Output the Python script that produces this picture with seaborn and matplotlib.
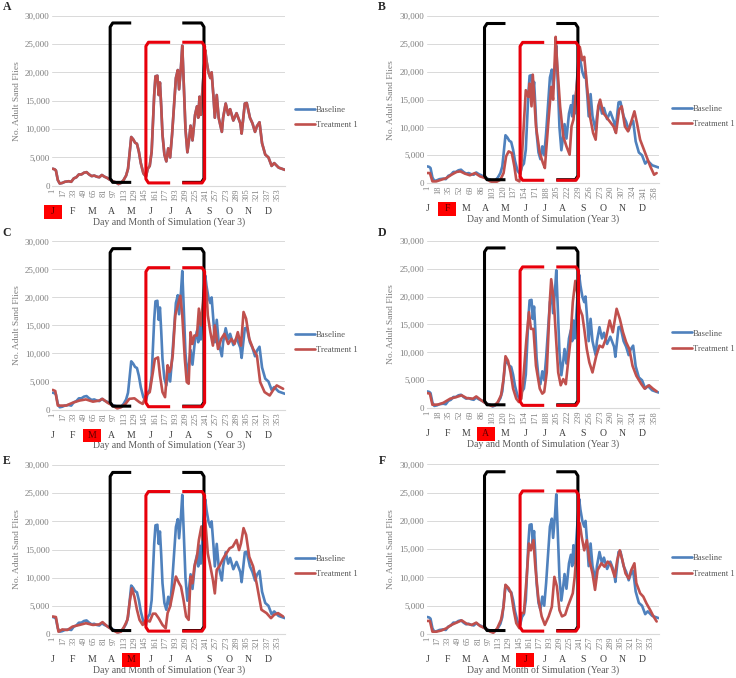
import matplotlib
matplotlib.use("Agg")
import matplotlib.pyplot as plt
import matplotlib.transforms as mtransforms
from matplotlib.patches import Rectangle
import seaborn as sns

# baseline run (blue), the same in every panel
base_days = [1, 4, 6, 9, 12, 16, 20, 26, 30, 34, 38, 42, 46, 50, 54, 58, 62, 66, 70, 74,
             78, 82, 86, 90, 95, 100, 104, 108, 112, 116, 119, 121, 124, 127, 130, 133, 136,
             139, 143, 147, 150, 153, 156, 158, 160, 162, 165, 167, 169, 171, 173, 176, 179,
             182, 185, 188, 191, 194, 197, 199, 202, 204, 206, 209, 212, 215, 217, 220, 224,
             227, 229, 231, 233, 236, 240, 242, 245, 248, 250, 253, 255, 258, 261, 263, 266,
             268, 272, 276, 279, 284, 289, 295, 297, 302, 305, 310, 314, 318, 321, 325, 329,
             334, 339, 344, 348, 355, 360, 365]
base_vals = [3000, 2900, 2700, 1000, 400, 500, 700, 800, 700, 1300, 1500, 2000, 2000, 2300,
             2400, 2000, 1700, 1800, 1600, 1500, 1900, 1600, 1400, 1100, 800, 600, 300, 500,
             1000, 1800, 3000, 5200, 8600, 8200, 7600, 7400, 6000, 4000, 2200, 1600, 3000,
             3500, 6000, 11000, 16000, 19300, 19400, 16000, 18200, 14000, 9000, 5500, 4300,
             6600, 5000, 9000, 14000, 19000, 20400, 17000, 21000, 24700, 19000, 10000, 5900,
             8500, 10600, 8000, 12500, 14000, 12000, 15700, 12500, 17500, 23900, 22000, 20000,
             19000, 20000, 15500, 12000, 16000, 12000, 11000, 9500, 12000, 14500, 12500,
             13500, 11500, 12800, 11000, 9200, 14500, 14600, 12000, 11000, 9500, 10500,
             11200, 7500, 5500, 5000, 3500, 4000, 3200, 3000, 2800]

# treatment 1 (red), one run per panel
treat_a_days = list(base_days)
treat_a_vals = list(base_vals)

treat_b_days = [1, 5, 9, 15, 23, 31, 39, 47, 53, 60, 68, 76, 84, 92, 100, 108, 116, 121, 125,
                129, 134, 138, 141, 146, 149, 153, 156, 160, 162, 165, 167, 172, 178, 183, 186,
                191, 196, 199, 203, 205, 210, 215, 220, 225, 228, 231, 236, 238, 241, 245, 248,
                252, 257, 262, 266, 270, 273, 278, 286, 294, 298, 303, 307, 312, 317, 323, 327,
                331, 336, 342, 347, 352, 358, 362]
treat_b_vals = [1800, 1800, 300, 300, 600, 900, 1500, 2000, 2100, 1700, 1400, 1800, 1200, 900,
                300, 100, 600, 1800, 4800, 5700, 5400, 3000, 600, 300, 3000, 10800, 16700,
                15500, 17900, 13800, 19500, 10200, 5400, 3600, 2700, 10200, 17300, 15000, 26300,
                22100, 13800, 8400, 6600, 5100, 10200, 11400, 17300, 19700, 24500, 22100, 22700,
                17900, 12000, 9000, 7800, 13800, 15000, 12600, 11400, 10200, 9000, 13200, 13800,
                10200, 9300, 11400, 12900, 10800, 7800, 6000, 4500, 3000, 1500, 1800]

treat_c_days = [1, 5, 9, 14, 22, 32, 43, 53, 64, 74, 79, 87, 95, 102, 108, 115, 121, 129, 137,
                142, 147, 153, 158, 161, 166, 169, 173, 177, 181, 184, 186, 189, 193, 197, 201,
                204, 208, 211, 214, 217, 220, 223, 227, 230, 233, 236, 239, 242, 244, 248, 252,
                255, 260, 265, 270, 276, 281, 286, 291, 296, 300, 304, 309, 315, 321, 326, 333,
                341, 346, 352, 357, 362]
treat_c_vals = [3500, 3300, 700, 700, 700, 1200, 1600, 1800, 1400, 1600, 1900, 1200, 700, 200,
                400, 1000, 1900, 2000, 1300, 1000, 2500, 3100, 6700, 9000, 9300, 6100, 3100,
                2200, 7900, 6700, 7300, 9600, 16800, 18600, 20300, 16800, 9000, 4900, 4600,
                13800, 11700, 13200, 13200, 18000, 15000, 18600, 23300, 20900, 16800, 13800,
                11400, 15000, 10800, 12600, 13500, 11700, 12600, 11700, 13800, 11400, 17400,
                16200, 12600, 10800, 9600, 4900, 3100, 2500, 3400, 4300, 4000, 3700]

treat_d_days = [1, 5, 9, 18, 26, 37, 47, 55, 63, 73, 78, 86, 94, 102, 107, 112, 117, 121, 124,
                128, 132, 136, 141, 145, 149, 152, 157, 161, 164, 168, 172, 178, 182, 185, 189,
                194, 196, 200, 203, 207, 211, 215, 219, 222, 226, 230, 234, 237, 241, 245, 248,
                252, 256, 261, 267, 272, 277, 282, 288, 293, 299, 304, 309, 314, 319, 324, 330,
                338, 343, 350, 356, 362]
treat_d_vals = [2700, 2600, 600, 650, 950, 1700, 2000, 2300, 1800, 1700, 2100, 1400, 800, 400,
                500, 1100, 2300, 5200, 9300, 8500, 6400, 3500, 1700, 1100, 1700, 5200, 12400,
                17200, 14200, 14200, 7600, 3500, 2600, 2900, 6400, 19500, 23100, 19500, 13600,
                6400, 4100, 5200, 4300, 7600, 11800, 19000, 22800, 20700, 17800, 16600, 14200,
                10600, 8200, 6400, 9400, 11200, 10900, 12400, 15700, 13600, 17800, 16000, 13600,
                11800, 10600, 7600, 5800, 4300, 3500, 4100, 3500, 3000]

treat_e_days = [1, 6, 10, 16, 24, 32, 43, 53, 64, 74, 79, 87, 95, 102, 108, 113, 118, 122, 125,
                129, 133, 137, 142, 147, 153, 158, 162, 167, 173, 178, 181, 185, 189, 194, 199,
                202, 206, 210, 214, 217, 220, 223, 227, 230, 234, 236, 240, 244, 248, 252, 255,
                258, 262, 268, 273, 278, 283, 289, 293, 296, 300, 304, 309, 315, 321, 328, 336,
                343, 348, 354, 362]
treat_e_vals = [3100, 3000, 400, 800, 700, 1300, 1600, 1900, 1600, 1700, 2100, 1300, 700, 250,
                400, 1300, 2500, 6000, 8100, 6600, 4300, 2500, 1600, 2500, 2200, 3600, 3600,
                2800, 1600, 1000, 3700, 4900, 7200, 10200, 9000, 8400, 6000, 3100, 2500, 10200,
                9000, 12000, 13700, 16700, 19100, 16700, 20200, 14300, 12000, 9600, 7200, 11400,
                12000, 13400, 14300, 15200, 15500, 16700, 14900, 16100, 18800, 17600, 13700,
                12000, 8700, 4300, 3700, 2800, 3400, 3700, 3100]

treat_f_days = [1, 5, 9, 15, 23, 31, 39, 47, 55, 63, 71, 78, 84, 92, 100, 105, 111, 117, 121,
                124, 129, 133, 137, 141, 146, 149, 153, 157, 161, 164, 168, 171, 176, 181, 186,
                192, 197, 201, 205, 209, 213, 218, 222, 226, 230, 233, 237, 241, 244, 248, 252,
                256, 261, 265, 269, 275, 280, 285, 290, 296, 300, 304, 308, 313, 318, 322, 327,
                330, 336, 341, 346, 352, 357, 362]
treat_f_vals = [2300, 2300, 400, 400, 600, 1000, 1600, 2000, 2400, 1800, 1600, 2000, 1400, 1000,
                400, 200, 1000, 2500, 4800, 8700, 8100, 7200, 4200, 1900, 1000, 3700, 3700, 9500,
                16000, 14800, 16600, 11900, 6000, 3100, 1600, 3100, 4800, 10100, 8400, 4200,
                3100, 3400, 4800, 6000, 7200, 10100, 16000, 19600, 17200, 14800, 16600, 13100,
                10700, 7800, 11300, 12500, 11900, 12800, 12200, 10100, 13100, 14800, 13100,
                10700, 9800, 11300, 12500, 9000, 7200, 6600, 5400, 4200, 3100, 2200]

ticks_16 = list(range(1, 366, 16))
ticks_17 = list(range(1, 366, 17))
months = ["J", "F", "M", "A", "M", "J", "J", "A", "S", "O", "N", "D"]
month_days = [1, 32, 62, 93, 124, 155, 185, 213, 246, 277, 308, 339]

panels = [
    ("A", treat_a_days, treat_a_vals, ticks_16, 0, [0.0712, 0.726, 0.3165, 0.251]),
    ("B", treat_b_days, treat_b_vals, ticks_17, 1, [0.5802, 0.730, 0.315, 0.246]),
    ("C", treat_c_days, treat_c_vals, ticks_16, 2, [0.0712, 0.396, 0.3165, 0.248]),
    ("D", treat_d_days, treat_d_vals, ticks_17, 3, [0.5802, 0.398, 0.315, 0.247]),
    ("E", treat_e_days, treat_e_vals, ticks_16, 4, [0.0712, 0.065, 0.3165, 0.249]),
    ("F", treat_f_days, treat_f_vals, ticks_16, 5, [0.5802, 0.065, 0.315, 0.250]),
]

BLUE = "#4f81bd"
RED = "#c0504d"
GREY = "#7f7f7f"

sns.set_theme(style="white")
plt.rcParams["font.family"] = ["Liberation Serif", "DejaVu Serif"]

fig = plt.figure(figsize=(7.36, 6.78), dpi=100)


def bracket(ax, x_out, x_in, y_lo, y_hi, color):
    # "[" when x_in > x_out, "]" otherwise, with softened corners
    dx = 4 if x_in > x_out else -4
    xs = [x_in, x_out + dx, x_out, x_out, x_out + dx, x_in]
    ys = [y_hi, y_hi, y_hi - 700, y_lo + 700, y_lo, y_lo]
    ax.plot(xs, ys, color=color, lw=2.2, solid_joinstyle="round",
            solid_capstyle="butt", zorder=5, clip_on=False)


for letter, t_days, t_vals, ticks, hl, pos in panels:
    ax = fig.add_axes(pos)
    sns.lineplot(x=base_days, y=base_vals, ax=ax, color=BLUE, lw=1.9, label="Baseline")
    sns.lineplot(x=t_days, y=t_vals, ax=ax, color=RED, lw=1.9, label="Treatment 1")

    ax.set_xlim(0.5, 365.5)
    ax.set_ylim(0, 30000)
    ax.set_yticks(range(0, 30001, 5000))
    ax.set_yticklabels([f"{v:,}" for v in range(0, 30001, 5000)], fontsize=6.5, color=GREY)
    ax.set_xticks(ticks)
    ax.set_xticklabels([str(t) for t in ticks], rotation=90, fontsize=6, color=GREY)
    ax.tick_params(length=0, pad=2)
    ax.grid(axis="y", color="#d9d9d9", lw=0.7)
    ax.set_axisbelow(True)
    for s in ["top", "left", "right"]:
        ax.spines[s].set_visible(False)
    ax.spines["bottom"].set_color("#d9d9d9")
    ax.spines["bottom"].set_linewidth(0.8)
    ax.set_xlabel("")
    ax.set_ylabel("No. Adult Sand Flies", fontsize=6.8, color=GREY, labelpad=3)

    # highlighted periods
    bracket(ax, 91, 124, 600, 28700, "black")
    bracket(ax, 238, 204, 600, 28700, "black")
    bracket(ax, 147, 185, 500, 25300, "#e8000b")
    bracket(ax, 239, 204, 500, 25300, "#e8000b")

    # month row under the day ticks, treatment month boxed in red
    trans = mtransforms.blended_transform_factory(ax.transData, ax.transAxes)
    for i, (m, d) in enumerate(zip(months, month_days)):
        col = "#404040"
        if i == hl:
            box = Rectangle((d - 14, -0.195), 28, 0.082, transform=trans,
                            facecolor="#ff0000", edgecolor="none", zorder=2)
            fig.patches.append(box)
            col = "#5c0000"
        fig.text(d, -0.153, m, transform=trans, ha="center", va="center",
                 fontsize=7, color=col, zorder=8)
    ax.text(0.5, -0.213, "Day and Month of Simulation (Year 3)", transform=ax.transAxes,
            ha="center", va="center", fontsize=7, color="#595959")

    anchor_x = 1.04 if pos[0] < 0.5 else 1.055
    ax.legend(loc="center left", bbox_to_anchor=(anchor_x, 0.40), frameon=False,
              fontsize=6.2, handlelength=2.4, handletextpad=0.1, labelspacing=0.85,
              borderpad=0, borderaxespad=0, labelcolor="#595959")

    x0 = 0.0095 if pos[0] < 0.5 else 0.519
    y0 = {"A": 0.9897, "B": 0.9897, "C": 0.656, "D": 0.656, "E": 0.320, "F": 0.320}[letter]
    fig.text(x0, y0, letter, ha="center", va="center", fontsize=8.5, fontweight="bold")

fig.savefig("out.png", dpi=100)
